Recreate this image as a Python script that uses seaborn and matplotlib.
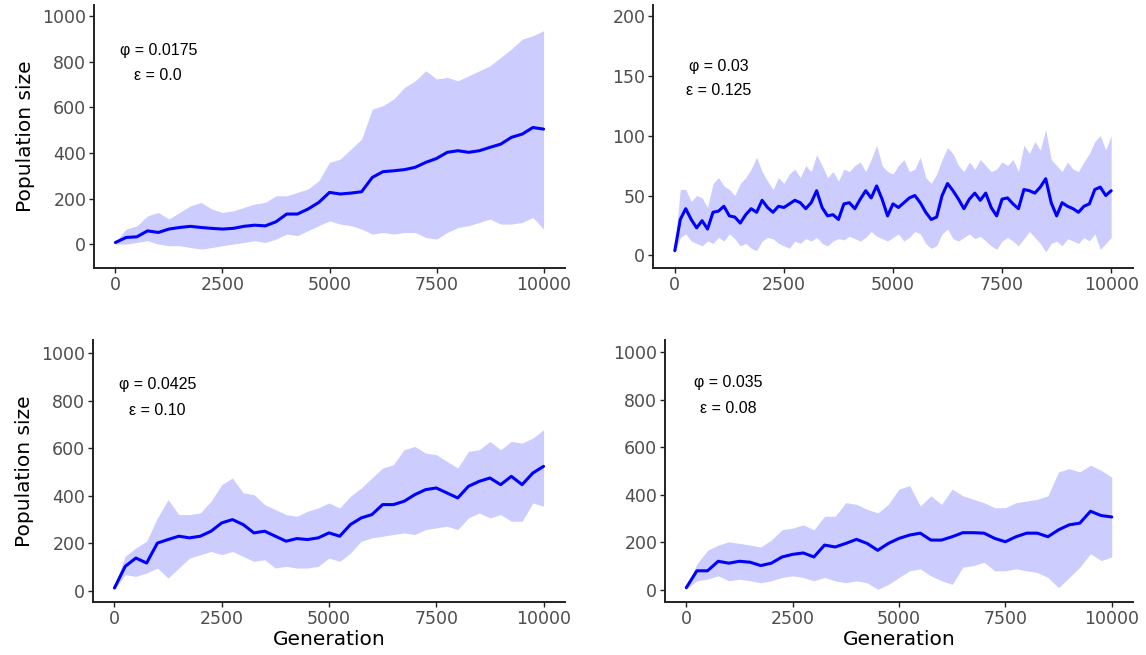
import numpy as np
import pandas as pd
import matplotlib
matplotlib.use("Agg")
import matplotlib.pyplot as plt
import seaborn as sns

# ---------------- data ----------------
gen_250 = list(range(0, 10001, 250))   # 41 points
gen_125 = list(range(0, 10001, 125))   # 81 points

# Panel A: phi = 0.0175, eps = 0.0
a_mean = [7, 29, 32, 58, 51, 66, 73, 78, 73, 69, 66, 69, 78, 83, 80, 98, 132, 132, 154, 183,
          227, 220, 224, 230, 293, 318, 322, 327, 337, 359, 376, 403, 410, 403, 410, 425, 439,
          469, 483, 512, 505]
a_upper = [10, 66, 80, 124, 139, 110, 139, 168, 183, 154, 139, 146, 161, 176, 183, 212, 212,
           227, 242, 278, 359, 373, 417, 461, 593, 608, 637, 688, 717, 761, 725, 732, 717, 739,
           761, 783, 820, 857, 900, 915, 937]
a_lower = [0, 0, 7, 15, 0, -7, -7, -15, -22, -15, -7, 0, 7, 15, 7, 22, 44, 37, 59, 81, 102, 88,
           81, 66, 44, 51, 44, 51, 51, 29, 22, 51, 73, 81, 95, 110, 88, 88, 95, 117, 66]

# Panel B: phi = 0.03, eps = 0.125
b_mean = [4, 30, 39, 30, 23, 29, 22, 36, 37, 41, 33, 32, 27, 34, 39, 36, 46, 40, 36, 41, 40,
          43, 46, 44, 39, 44, 54, 40, 33, 34, 30, 43, 44, 39, 47, 54, 48, 58, 47, 33, 43, 40,
          44, 48, 50, 44, 36, 30, 32, 50, 60, 54, 47, 39, 47, 52, 46, 52, 40, 33, 47, 48, 43,
          39, 55, 54, 52, 57, 64, 44, 33, 44, 41, 39, 36, 41, 43, 55, 57, 50, 54]
b_upper = [6, 55, 55, 45, 50, 48, 40, 60, 65, 58, 55, 50, 60, 65, 72, 82, 70, 62, 55, 65, 60,
           68, 72, 65, 75, 70, 84, 75, 65, 70, 62, 72, 70, 75, 78, 70, 80, 92, 75, 70, 68, 75,
           80, 70, 72, 82, 65, 60, 68, 80, 90, 85, 75, 70, 78, 72, 80, 75, 70, 72, 78, 75, 80,
           70, 92, 85, 95, 88, 105, 80, 75, 70, 78, 72, 70, 78, 85, 95, 100, 88, 100]
b_lower = [2, 15, 18, 12, 10, 8, 12, 10, 15, 12, 18, 14, 8, 10, 6, 4, 12, 15, 14, 10, 8, 6,
           12, 10, 14, 12, 15, 10, 8, 12, 14, 13, 16, 14, 12, 15, 20, 16, 14, 12, 15, 18, 12,
           15, 20, 18, 10, 6, 8, 18, 22, 14, 12, 15, 18, 14, 16, 12, 8, 5, 12, 15, 12, 8, 14,
           20, 15, 10, 3, 10, 12, 8, 14, 12, 10, 15, 12, 18, 5, 10, 15]

# Panel C: phi = 0.0425, eps = 0.10
c_mean = [11, 102, 137, 116, 200, 215, 229, 222, 229, 250, 285, 299, 278, 243, 250, 229, 208,
          219, 215, 222, 243, 229, 278, 306, 320, 362, 362, 376, 404, 425, 432, 411, 390, 439,
          460, 474, 446, 481, 446, 495, 523]
c_upper = [20, 144, 180, 208, 306, 383, 320, 320, 327, 376, 446, 474, 411, 404, 362, 341, 320,
           313, 334, 348, 369, 348, 397, 432, 474, 516, 530, 593, 607, 579, 572, 544, 516, 586,
           593, 628, 593, 628, 621, 642, 677]
c_lower = [5, 67, 60, 74, 95, 53, 95, 137, 151, 165, 151, 165, 144, 123, 130, 95, 102, 95, 95,
           102, 137, 123, 158, 208, 222, 229, 236, 243, 236, 257, 264, 271, 257, 306, 327, 306,
           320, 292, 292, 369, 355]

# Panel D: phi = 0.035, eps = 0.08
d_mean = [10, 81, 81, 121, 113, 121, 117, 103, 113, 139, 150, 156, 139, 189, 181, 196, 213,
          196, 167, 196, 217, 231, 239, 210, 210, 224, 241, 241, 239, 217, 203, 224, 239, 239,
          224, 253, 274, 281, 331, 313, 307]
d_upper = [15, 110, 167, 189, 203, 196, 189, 181, 210, 253, 260, 274, 253, 310, 310, 367, 360,
           339, 324, 360, 424, 439, 353, 396, 360, 424, 396, 381, 367, 346, 346, 367, 374, 381,
           396, 496, 510, 496, 524, 503, 474]
d_lower = [5, 39, 46, 60, 39, 46, 39, 31, 39, 53, 60, 53, 39, 53, 39, 31, 39, 31, 3, 24, 53, 81,
           89, 60, 39, 24, 96, 103, 117, 81, 81, 89, 81, 74, 53, 10, 53, 96, 153, 124, 139]

labels = [("\u03c6 = 0.0175", "\u03b5 = 0.0"),
          ("\u03c6 = 0.03", "\u03b5 = 0.125"),
          ("\u03c6 = 0.0425", "\u03b5 = 0.10"),
          ("\u03c6 = 0.035", "\u03b5 = 0.08")]

x_ticks = [0, 2500, 5000, 7500, 10000]
y_ticks_big = [0, 200, 400, 600, 800, 1000]
y_ticks_small = [0, 50, 100, 150, 200]

# ---------------- styling ----------------
sns.set_theme(style="ticks")
plt.rcParams['font.family'] = ['DejaVu Sans']

LINE = "#0000FF"
RIBBON = "#CCCCFF"
SPINE = "#222222"
TICKTXT = "#4D4D4D"

fig = plt.figure(figsize=(11.46, 6.55), dpi=100)
W, H = 1146, 655

def px_axes(l, t, r, b):
    return fig.add_axes([l / W, 1 - b / H, (r - l) / W, (b - t) / H])

panels = [
    dict(box=(94, 5, 565, 268), gen=gen_250, mean=a_mean, lo=a_lower, hi=a_upper,
         ylim=(-105, 1050), yt=y_ticks_big, ann=(1000, 850, 740), ylab=True, xlab=False),
    dict(box=(653, 5, 1133, 268), gen=gen_125, mean=b_mean, lo=b_lower, hi=b_upper,
         ylim=(-10.5, 209), yt=y_ticks_small, ann=(1000, 158, 138), ylab=False, xlab=False),
    dict(box=(93, 340, 565, 602), gen=gen_250, mean=c_mean, lo=c_lower, hi=c_upper,
         ylim=(-48, 1055), yt=y_ticks_big, ann=(1000, 866, 760), ylab=True, xlab=True),
    dict(box=(665, 340, 1133, 602), gen=gen_250, mean=d_mean, lo=d_lower, hi=d_upper,
         ylim=(-50, 1050), yt=y_ticks_big, ann=(980, 871, 764), ylab=False, xlab=True),
]

for p, (l1, l2) in zip(panels, labels):
    ax = px_axes(*p["box"])
    df = pd.DataFrame({"Generation": p["gen"], "mean": p["mean"],
                       "lo": p["lo"], "hi": p["hi"]})
    ax.fill_between(df["Generation"], df["lo"], df["hi"], color=RIBBON, lw=0, zorder=1)
    sns.lineplot(data=df, x="Generation", y="mean", ax=ax, color=LINE, lw=2.2, zorder=2)
    ax.set_xlim(-500, 10500)
    ax.set_ylim(*p["ylim"])
    ax.set_xticks(x_ticks)
    ax.set_xticklabels([str(v) for v in x_ticks])
    ax.set_yticks(p["yt"])
    ax.set_yticklabels([str(v) for v in p["yt"]])
    ax.tick_params(axis="both", labelsize=12.5, labelcolor=TICKTXT, color=SPINE,
                   length=3.5, width=1.0, pad=2)
    sns.despine(ax=ax)
    for s in ("left", "bottom"):
        ax.spines[s].set_color(SPINE)
        ax.spines[s].set_linewidth(1.4)
    ax.grid(False)
    ax.set_facecolor("white")

    if p["ylab"]:
        ax.set_ylabel("Population size", fontsize=14.5, color="black")
        ax.yaxis.label.set_va("center")
        ax.yaxis.set_label_coords(-0.146, 0.5)
    else:
        ax.set_ylabel("")
    if p["xlab"]:
        ax.set_xlabel("Generation", fontsize=14.5, color="black")
        ax.xaxis.label.set_va("center")
        ax.xaxis.set_label_coords(0.5, -0.145)
    else:
        ax.set_xlabel("")

    gx, y1, y2 = p["ann"]
    ax.text(gx, y1, l1, ha="center", va="center", fontsize=11.5,
            family=["Liberation Sans", "DejaVu Sans"], color="black")
    ax.text(gx, y2, l2, ha="center", va="center", fontsize=11.5,
            family=["Liberation Sans", "DejaVu Sans"], color="black")

fig.savefig("out.png", dpi=100, facecolor="white")
